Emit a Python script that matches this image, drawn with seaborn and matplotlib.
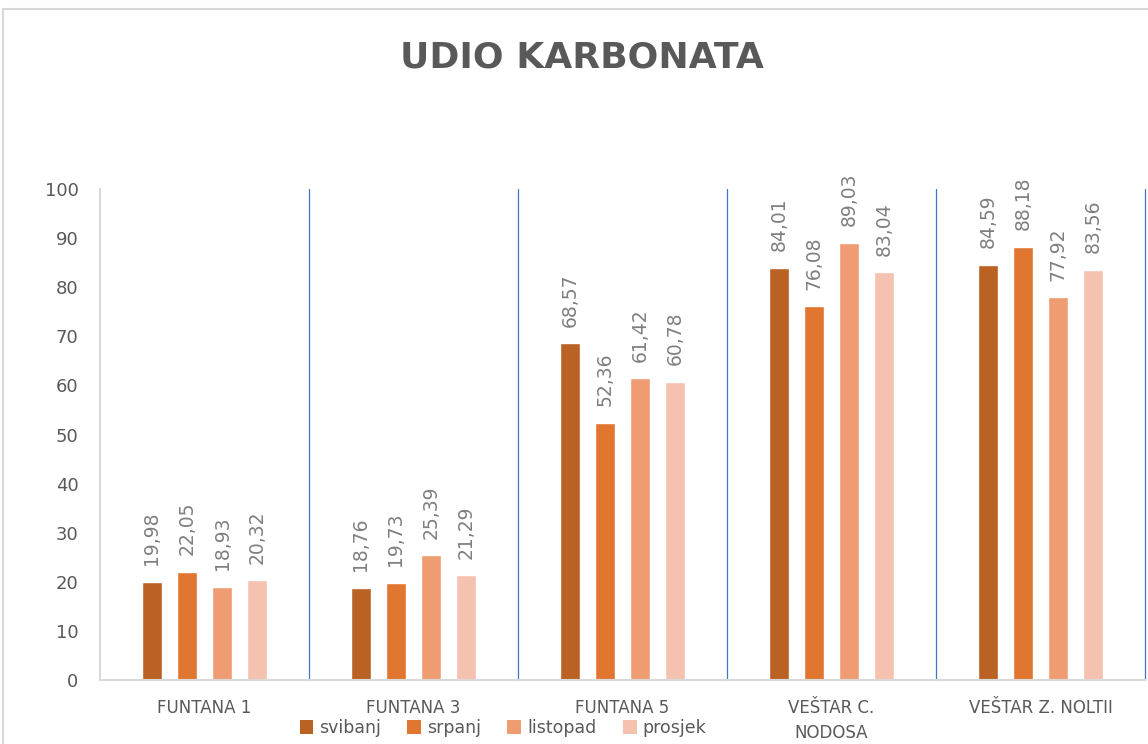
import matplotlib
matplotlib.use("Agg")
import matplotlib.pyplot as plt
import seaborn as sns
import pandas as pd
from matplotlib.patches import Rectangle, Patch

categories = ["FUNTANA 1", "FUNTANA 3", "FUNTANA 5", "VEŠTAR C.\nNODOSA", "VEŠTAR Z. NOLTII"]
series_names = ["svibanj", "srpanj", "listopad", "prosjek"]
svibanj = [19.98, 18.76, 68.57, 84.01, 84.59]
srpanj = [22.05, 19.73, 52.36, 76.08, 88.18]
listopad = [18.93, 25.39, 61.42, 89.03, 77.92]
prosjek = [20.32, 21.29, 60.78, 83.04, 83.56]
colors = ["#BA6124", "#E07630", "#F09C73", "#F5C2B0"]
y_ticks = [0, 10, 20, 30, 40, 50, 60, 70, 80, 90, 100]

rows = []
for name, vals in zip(series_names, [svibanj, srpanj, listopad, prosjek]):
    for c, v in zip(categories, vals):
        rows.append({"kategorija": c, "serija": name, "vrijednost": v})
df = pd.DataFrame(rows)

sns.set_style("white")
plt.rcParams["font.family"] = ["DejaVu Sans"]

fig = plt.figure(figsize=(11.48, 7.44), dpi=100)
ax = fig.add_axes([100/1148, 1-680/744, 1045/1148, (680-189)/744])

sns.barplot(data=df, x="kategorija", y="vrijednost", hue="serija",
            order=categories, hue_order=series_names, palette=colors,
            saturation=1, width=0.67, gap=0.44, ax=ax, legend=False)

for cont in ax.containers:
    labels = [f"{b.get_height():.2f}".replace(".", ",") for b in cont]
    ax.bar_label(cont, labels=labels, rotation=90, padding=12,
                 fontsize=13.5, color="#7F7F7F")

ax.set_xlim(-0.5, len(categories) - 0.5)
ax.set_ylim(0, 100)
ax.set_yticks(y_ticks)
ax.set_xlabel("")
ax.set_ylabel("")

for s in ["top", "right"]:
    ax.spines[s].set_visible(False)
for s in ["left", "bottom"]:
    ax.spines[s].set_color("#D9D9D9")
    ax.spines[s].set_linewidth(1.5)

# separators
for i in range(len(categories)):
    ax.axvline(i + 0.5, ymin=0, ymax=1, color="#4472C4", lw=0.9, clip_on=False, zorder=0)

ax.tick_params(axis="y", length=5, width=1.5, color="#D9D9D9", pad=10.5,
               labelsize=13, labelcolor="#595959", direction="out")
ax.set_xticks([i - 0.5 for i in range(len(categories) + 1)], minor=True)
ax.tick_params(axis="x", which="minor", length=5, width=1.5, color="#D9D9D9", direction="out")
ax.tick_params(axis="x", which="major", length=0, pad=14,
               labelsize=12, labelcolor="#595959")
for t in ax.get_xticklabels():
    t.set_linespacing(1.45)

fig.text(582/1148, 1-57/744, "UDIO KARBONATA", ha="center", va="center",
         fontsize=26, fontweight="bold", color="#595959")

handles = [Patch(facecolor=c, edgecolor="none") for c in colors]
fig.legend(handles, series_names, loc="center", bbox_to_anchor=(503/1148, 1-728/744),
           bbox_transform=fig.transFigure, ncol=4, frameon=False, fontsize=12.5,
           handlelength=0.8, handleheight=0.8, handletextpad=0.35, columnspacing=1.5,
           labelcolor="#595959")

fig.patches.append(Rectangle((3/1148, -0.05), 1.2, 1-9/744+0.05, transform=fig.transFigure,
                             fill=False, edgecolor="#D9D9D9", lw=1.5, zorder=-1))

fig.savefig("out.png", dpi=100)
